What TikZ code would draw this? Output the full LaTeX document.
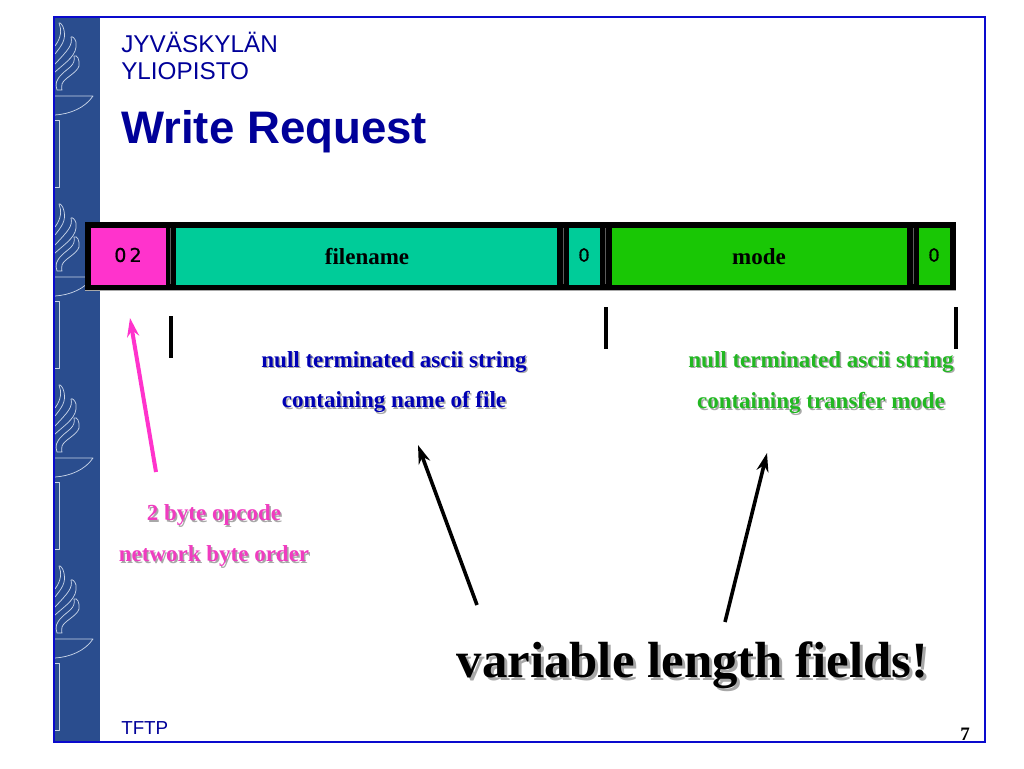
\documentclass[tikz,border=0pt]{standalone}
\usepackage{fontspec}
\setmainfont{Liberation Serif}
\newfontfamily\arialf{Liberation Sans}
\newfontfamily\dejaf[FakeBold=0.8]{DejaVu Sans}
\usetikzlibrary{arrows.meta}
\definecolor{navy}{HTML}{000099}
\definecolor{framec}{HTML}{0A0ACD}
\definecolor{sidec}{HTML}{2A4D8E}
\definecolor{logoc}{HTML}{C8D4E8}
\definecolor{pinkc}{HTML}{FF33CC}
\definecolor{tealc}{HTML}{00CC99}
\definecolor{greenc}{HTML}{19C705}
\definecolor{pinkt}{HTML}{F03CC0}
\definecolor{bluet}{HTML}{0000B4}
\definecolor{greent}{HTML}{22B822}
\definecolor{shad}{HTML}{A8A8A8}
\newcommand{\fpx}[1]{\fontsize{\dimexpr#1pt*3/4\relax}{\dimexpr#1pt*3/4\relax}\selectfont}
\tikzset{
  x=0.75pt,y=-0.75pt,
  cell/.style={inner sep=0pt,outer sep=0pt,minimum height=42.75pt,anchor=west},
  lab/.style={inner sep=0pt,font=\bfseries\fpx{23}},
  sh/.style={lab,text=shad},
  big/.style={inner sep=0pt,font=\bfseries\fpx{50.8}},
  tickline/.style={draw=black,line width=2.3pt},
  arw/.style={line width=2.7pt,-{Stealth[length=14pt,width=9pt]}},
  logo/.style={draw=logoc,line width=0.55pt,line join=round},
}
\newcommand{\torch}[1]{%
\begin{scope}[yshift=-#1*0.75pt]
  \path[logo] (55,54) .. controls (62,45) and (66,40) .. (64,30) .. controls (63,25) and (60,22) .. (59,23) .. controls (62,30) and (61,38) .. (55,46);
  \path[logo] (55,72) .. controls (66,62) and (78,55) .. (76,42) .. controls (75,38) and (72,36) .. (71,37) .. controls (73,45) and (68,50) .. (55,64);
  \path[logo] (57,90) .. controls (55,84) and (56,80) .. (62,74) .. controls (68,68) and (76,65) .. (74,56) .. controls (77,54) and (80,60) .. (79,66) .. controls (77,73) and (64,78) .. (62,84) .. controls (61,87) and (62,90) .. (62,90) -- cycle;
  \path[logo] (55,96) -- (93,96) .. controls (85,108) and (70,114) .. (55,115);
  \path[logo] (55,120) -- (59,120) -- (59,187) -- (55,187);
\end{scope}}
\begin{document}
\begin{tikzpicture}
\useasboundingbox (0,0) rectangle (1024,768);
\fill[white] (0,0) rectangle (1024,768);
\fill[sidec] (54,17) rectangle (100,742);
\torch{0}\torch{181}\torch{362}\torch{543}
\draw[framec,line width=0.85pt] (54,17) rectangle (985,742);
\node[anchor=west,inner sep=0pt,text=navy,font={\arialf\fpx{24.3}}] (uni1) at (121,42) {JYVÄSKYLÄN};
\node[anchor=west,inner sep=0pt,text=navy,font={\arialf\fpx{24.3}}] (uni2) at (121,71) {YLIOPISTO};
\node[anchor=west,inner sep=0pt,text=navy,font={\arialf\bfseries\fpx{45.6}}] (title) at (121,132) {Write Request};
% bar
\fill[black] (85,222) rectangle (956,290);
\draw[shad,line width=0.5pt] (85,290.4) -- (956,290.4);
\foreach \gx in {170.7,563,605.5,913}{\draw[shad!55!black,line width=0.35pt] (\gx,228) -- (\gx,284);}
\node[cell,fill=pinkc,minimum width=56.25pt] (op) at (91,256) {};
\node[cell,fill=tealc,minimum width=285.75pt] (fn) at (176,256) {};
\node[cell,fill=tealc,minimum width=23.25pt] (z1) at (569,256) {};
\node[cell,fill=greenc,minimum width=221.25pt] (md) at (612,256) {};
\node[cell,fill=greenc,minimum width=23.25pt] (z2) at (919,256) {};
\node[inner sep=0pt,font={\dejaf\fpx{19}}] (opt) at (128,255) {0\,2};
\node[lab] (fnt) at (367,257) {filename};
\node[inner sep=0pt,font={\dejaf\fpx{18}}] (z1t) at (584,255) {0};
\node[lab] (mdt) at (759,257) {mode};
\node[inner sep=0pt,font={\dejaf\fpx{18}}] (z2t) at (934,255) {0};
% ticks
\coordinate (t1a) at (171,316); \coordinate (t1b) at (171,358);
\coordinate (t2a) at (606,307); \coordinate (t2b) at (606,349);
\coordinate (t3a) at (956,307); \coordinate (t3b) at (956,349);
\draw[tickline] (t1a) -- (t1b);
\draw[tickline] (t2a) -- (t2b);
\draw[tickline] (t3a) -- (t3b);
% labels
\node[sh] at (395.5,363.5) {null terminated ascii string};
\node[lab,text=bluet] (a1) at (394,362) {null terminated ascii string};
\node[sh] at (395.5,403.5) {containing name of file};
\node[lab,text=bluet] (a2) at (394,402) {containing name of file};
\node[sh] at (822.5,363.5) {null terminated ascii string};
\node[lab,text=greent] (b1) at (821,362) {null terminated ascii string};
\node[sh] at (822.5,404.5) {containing transfer mode};
\node[lab,text=greent] (b2) at (821,403) {containing transfer mode};
\node[sh] at (215.5,516.5) {2 byte opcode};
\node[lab,text=pinkt] (c1) at (214,515) {2 byte opcode};
\node[sh] at (215.5,557.5) {network byte order};
\node[lab,text=pinkt] (c2) at (214,556) {network byte order};
% big
\node[big,text=shad] at (695.5,668.5) {variable length fields!};
\node[big,text=black] (vl) at (692.5,665.5) {variable length fields!};
% arrows
\coordinate (p1) at (156,472); \coordinate (p2) at (130,318);
\coordinate (q1) at (477,605); \coordinate (q2) at (418,445);
\coordinate (r1) at (725,622); \coordinate (r2) at (767,453);
\draw[arw,pinkc,line width=3pt] (p1) -- (p2);
\draw[arw,black] (q1) -- (q2);
\draw[arw,black] (r1) -- (r2);
\node[anchor=west,inner sep=0pt,text=navy,font={\arialf\fpx{18.8}}] (foot) at (121,728) {TFTP};
\node[inner sep=0pt,font=\bfseries\fpx{19}] (pg) at (965,734) {7};
\end{tikzpicture}
\end{document}
